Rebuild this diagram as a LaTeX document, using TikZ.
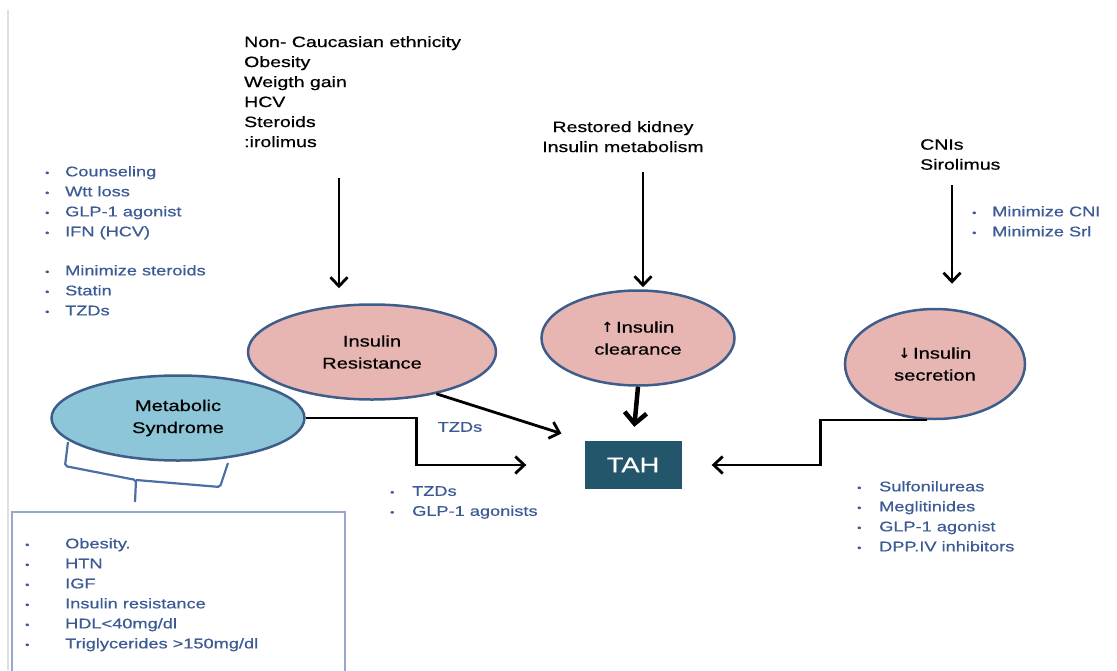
\documentclass[tikz,border=0pt]{standalone}
\usepackage{fontspec}
\setmainfont{Liberation Sans}[FakeStretch=1.3, FakeBold=0.6]
\newfontfamily\arrowfont{DejaVu Sans}
\usepackage{xcolor}
\usepackage{tikz}
\usetikzlibrary{shapes.geometric,arrows.meta,positioning,calc}
\definecolor{tahteal}{HTML}{23566B}
\definecolor{tahblue}{HTML}{3C5A94}
\definecolor{tahpink}{HTML}{E7B5B2}
\definecolor{tahsky}{HTML}{8DC6D9}
\definecolor{tahrim}{HTML}{3F5D8A}
\definecolor{tahframe}{HTML}{97A8CF}
\definecolor{tahbrace}{HTML}{4A6FA5}
\newcommand{\tahitem}[2][20pt]{\makebox[#1][l]{\raisebox{0.5pt}{\fontsize{9}{9}\selectfont\textbullet}}#2}

\begin{document}
\begin{tikzpicture}[
    x=1pt, y=-1pt,
    cause/.style={font=\fontsize{15}{20}\selectfont, text=black, align=left, inner sep=0pt, anchor=north west},
    druglist/.style={font=\fontsize{14}{20}\selectfont, text=tahblue, align=left, inner sep=0pt, anchor=north west},
    state/.style={ellipse, draw=tahrim, fill=tahpink, line width=2.5pt, inner sep=0pt, align=center, font=\fontsize{15.5}{22}\selectfont},
    target/.style={rectangle, fill=tahteal, text=white, minimum width=97pt, minimum height=48pt, font=\fontsize{21}{24}\selectfont},
    arrow/.style={-{Straight Barb[length=9pt, width=17pt]}, line width=2.8pt, draw=black},
    bigarrow/.style={-{Straight Barb[length=11pt, width=22pt]}, line width=4.5pt, draw=black}
]
    \useasboundingbox (0,0) rectangle (1117,670);
    \draw[line width=1.5pt, draw=black!12] (8,10) -- (8,670);

    % Causes on top
    \node (riskA) [cause] at (244,36) {Non- Caucasian ethnicity\\Obesity\\Weigth gain\\HCV\\Steroids\\:irolimus};
    \node (riskB) [cause, anchor=north, align=center] at (623,121) {Restored kidney\\Insulin metabolism};
    \node (riskC) [cause] at (920,139) {CNIs\\Sirolimus};

    % Treatments
    \node (drugsA) [druglist] at (45,166) {\tahitem{Counseling}\\\tahitem{Wtt loss}\\\tahitem{GLP-1 agonist}\\\tahitem{IFN (HCV)}\\[19pt]\tahitem{Minimize steroids}\\\tahitem{Statin}\\\tahitem{TZDs}};
    \node (drugsC) [druglist] at (972,206) {\tahitem{Minimize CNI}\\\tahitem{Minimize Srl}};
    \node (drugsB) [druglist] at (390,486) {\tahitem[22pt]{TZDs}\\\tahitem[22pt]{GLP-1 agonists}};
    \node (drugsD) [druglist] at (857,481) {\tahitem[22pt]{Sulfonilureas}\\\tahitem[22pt]{Meglitinides}\\\tahitem[22pt]{GLP-1 agonist}\\\tahitem[22pt]{DPP.IV inhibitors}};
    \node (tzd) [druglist, anchor=center] at (460,427) {TZDs};

    % Ellipses
    \node (ir) [state, minimum width=248pt, minimum height=95pt] at (372,352) {Insulin\\Resistance};
    \node (ms) [state, fill=tahsky, minimum width=253pt, minimum height=85pt] at (178,418) {Metabolic\\Syndrome};
    \node (ic) [state, minimum width=193pt, minimum height=95pt] at (638,338) {{\arrowfont\bfseries\fontsize{14}{22}\selectfont ↑}\,Insulin\\clearance};
    \node (is) [state, minimum width=180pt, minimum height=110pt] at (935,364) {{\arrowfont\bfseries\fontsize{14}{22}\selectfont ↓}\,Insulin\\secretion};

    % Target
    \node (tah) [target] at (633,465) {TAH};

    % Arrows from causes
    \coordinate (a1) at (339,178);
    \coordinate (a2) at (643,172);
    \coordinate (a3) at (952,185);
    \draw [arrow, shorten >=15pt] (a1) -- (a1 |- ir.north);
    \draw [arrow, shorten >=2pt] (a2) -- (a2 |- ic.north);
    \draw [arrow, shorten >=24pt] (a3) -- (a3 |- is.north);

    % Arrows into TAH
    \draw [arrow, shorten >=24pt] (ir.-33) -- (tah.north west);
    \draw [bigarrow, shorten >=14pt] (ic.south) -- (tah.north);
    \draw [arrow, shorten >=58pt] (ms.east) -- ++(111,0) |- (tah.west);
    \draw [arrow, shorten >=30pt] (is.-98) -- ++(-107,0) |- (tah.east);

    % Metabolic syndrome criteria
    \draw [line width=2.2pt, draw=tahbrace, rounded corners=2pt] (68,442) -- (65,466) -- (136,480) -- (135,502);
    \draw [line width=2.2pt, draw=tahbrace, rounded corners=2pt] (136,480) -- (220,487) -- (228,463);
    \draw [line width=2pt, draw=tahframe] (12,675) -- (12,512) -- (345,512) -- (345,675);
    \node (criteria) [druglist] at (25,538) {\tahitem[40pt]{Obesity.}\\\tahitem[40pt]{HTN}\\\tahitem[40pt]{IGF}\\\tahitem[40pt]{Insulin resistance}\\\tahitem[40pt]{HDL<40mg/dl}\\\tahitem[40pt]{Triglycerides >150mg/dl}};
\end{tikzpicture}
\end{document}
